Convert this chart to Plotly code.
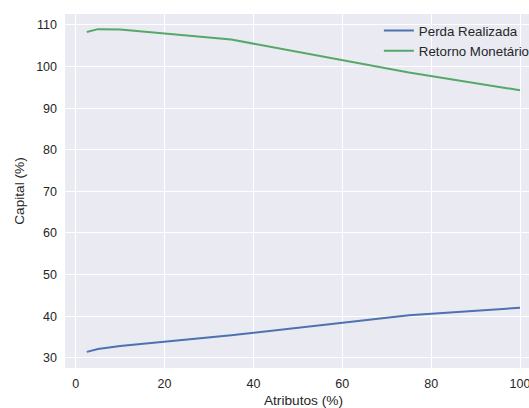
import plotly.graph_objects as go

atributos = [2.5, 5, 10, 35, 75, 100]
perda_realizada = [31.4, 32.1, 32.8, 35.4, 40.2, 42.0]
retorno_monetario = [108.3, 109.0, 108.9, 106.5, 98.6, 94.3]
x_ticks = [0, 20, 40, 60, 80, 100]
y_ticks = [30, 40, 50, 60, 70, 80, 90, 100, 110]

font_family = "Liberation Sans, Arial, sans-serif"
text_color = "#262626"

fig = go.Figure()
fig.add_trace(go.Scatter(x=atributos, y=perda_realizada, mode="lines",
                         name="Perda Realizada",
                         line=dict(color="#4c72b0", width=2)))
fig.add_trace(go.Scatter(x=atributos, y=retorno_monetario, mode="lines",
                         name="Retorno Monetário",
                         line=dict(color="#55a868", width=2)))

# The reference image is cropped on the right: the figure is a bit wider than
# the 529px window and the overflow is hidden.
fig.update_layout(
    width=542, height=408,
    margin=dict(l=65, r=0, t=14, b=40),
    paper_bgcolor="white",
    plot_bgcolor="#eaeaf2",
    font=dict(family=font_family, size=12.5, color=text_color),
    showlegend=True,
    legend=dict(x=0.658, y=0.996, xanchor="left", yanchor="top",
                bgcolor="rgba(0,0,0,0)", font=dict(size=13.3, color=text_color),
                itemwidth=30, tracegroupgap=0),
    xaxis=dict(range=[-2.41, 104.95], tickvals=x_ticks, showgrid=True,
               gridcolor="white", gridwidth=1, zeroline=False, showline=False,
               ticks="", automargin=False, ticklabelstandoff=6,
               ticklabeloverflow="allow",
               title=dict(text="Atributos (%)", font=dict(size=13.7), standoff=8)),
    yaxis=dict(range=[27.53, 112.64], tickvals=y_ticks, showgrid=True,
               gridcolor="white", gridwidth=1, zeroline=False, showline=False,
               ticks="", automargin=False, ticklabelstandoff=7,
               ticklabeloverflow="allow",
               title=dict(text="Capital (%)", font=dict(size=13.7), standoff=8)),
)

# remove the default page margin so the figure starts at the window's corner
fig.write_html("out.html",
               config={"displayModeBar": False},
               post_script="document.body.style.margin='0';document.body.style.overflow='hidden';")
